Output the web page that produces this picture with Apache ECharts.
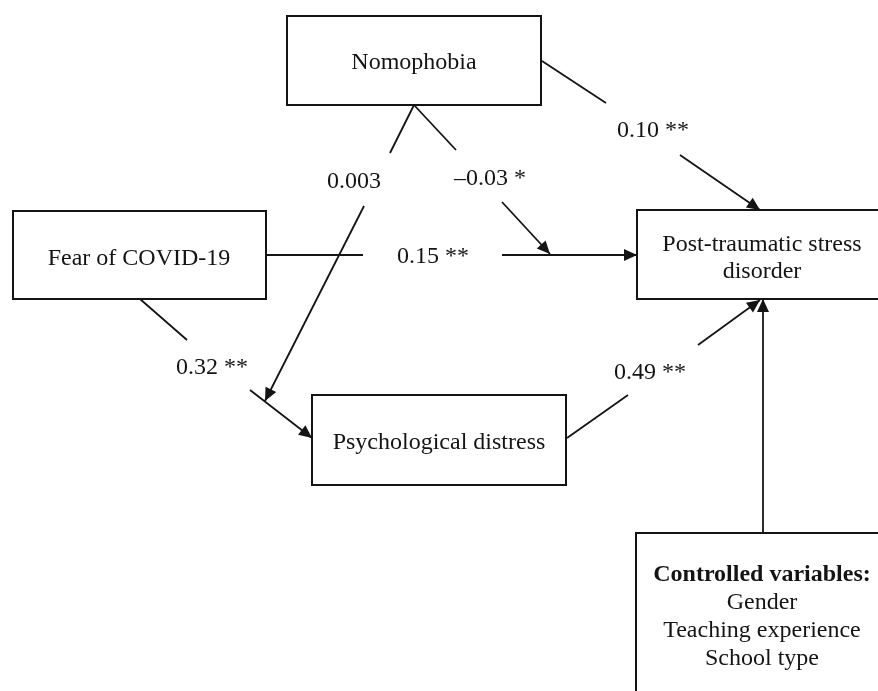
<!DOCTYPE html>
<html>
<head>
<meta charset="utf-8">
<title>Nomophobia path model</title>
<script src="https://cdn.jsdelivr.net/npm/echarts@6/dist/echarts.min.js"></script>
<style>
html, body { margin: 0; padding: 0; background: #fff; }
#chart { width: 878px; height: 691px; }
</style>
</head>
<body>
<div id="chart"></div>
<script>
// variables in the model
const boxNames = ['Nomophobia', 'Fear of COVID-19', 'Post-traumatic stress\ndisorder', 'Psychological distress', 'Controlled variables:'];
const controlVars = ['Gender', 'Teaching experience', 'School type'];
// path coefficients (same order as the paths below)
const coefLabels = ['0.10 **', '0.003', '\u20130.03 *', '0.15 **', '0.32 **', '0.49 **'];

// layout, in diagram units (axes run 0..878 and 0..691)
const boxRects = [
	[287, 16, 541, 105],
	[13, 211, 266, 299],
	[637, 210, 895, 299],
	[312, 395, 566, 485],
	[636, 533, 895, 710]
];
const boxTextPos = [[414, 63], [139, 259], [762, 258], [439, 443], [762, 575]];
const controlTextPos = [762, 631];

// each path: its pieces of line, the last one ends in an arrow (when arrow is true)
const paths = [
	{segs: [[[542, 61], [606, 103]], [[680, 155], [760, 210]]], arrow: true},
	{segs: [[[414, 105], [390, 153]], [[364, 206], [265, 401]]], arrow: true},
	{segs: [[[414, 105], [456, 150]], [[502, 202], [550, 254]]], arrow: true},
	{segs: [[[266, 255], [363, 255]], [[502, 255], [637, 255]]], arrow: true},
	{segs: [[[140, 299], [187, 340]], [[250, 390], [312, 438]]], arrow: true},
	{segs: [[[567, 438], [628, 395]], [[698, 345], [760, 300]]], arrow: true},
	{segs: [[[763, 533], [763, 299]]], arrow: true}
];
const coefPos = [[653, 131], [354, 182], [490, 179], [433, 257], [212, 368], [650, 373]];

const ink = '#141414';
const serif = '"Liberation Serif", "Times New Roman", serif';

let myChart = echarts.init(document.getElementById('chart'), null, {renderer: 'canvas'});

function renderBox(params, api) {
	let i = params.dataIndex;
	let p0 = api.coord([api.value(0), api.value(1)]);
	let p1 = api.coord([api.value(2), api.value(3)]);
	let t = api.coord(boxTextPos[i]);
	let children = [{
		type: 'rect',
		shape: {x: p0[0], y: p0[1], width: p1[0] - p0[0], height: p1[1] - p0[1]},
		style: {fill: '#fff', stroke: ink, lineWidth: 2}
	}, {
		type: 'text',
		style: {
			text: boxNames[i], x: t[0], y: t[1], fill: ink,
			fontSize: 24, fontFamily: serif, fontWeight: i === 4 ? 'bold' : 'normal',
			align: 'center', verticalAlign: 'middle', lineHeight: 27
		}
	}];
	if (i === 4) {
		let c = api.coord(controlTextPos);
		children.push({
			type: 'text',
			style: {
				text: controlVars.join('\n'), x: c[0], y: c[1], fill: ink,
				fontSize: 24, fontFamily: serif,
				align: 'center', verticalAlign: 'middle', lineHeight: 28
			}
		});
	}
	return {type: 'group', children: children};
}

function renderPath(params, api) {
	let path = paths[params.dataIndex];
	let children = [];
	path.segs.forEach((seg, k) => {
		let a = api.coord(seg[0]);
		let b = api.coord(seg[1]);
		children.push({
			type: 'polyline',
			shape: {points: [a, b]},
			style: {stroke: ink, lineWidth: 1.8, fill: null}
		});
		if (path.arrow && k === path.segs.length - 1) {
			// filled arrow head with its tip on the end point
			let dx = b[0] - a[0], dy = b[1] - a[1];
			let len = Math.sqrt(dx * dx + dy * dy);
			let ux = dx / len, uy = dy / len;
			let L = 13, W = 6;
			let bx = b[0] - ux * L, by = b[1] - uy * L;
			children.push({
				type: 'polygon',
				shape: {points: [b, [bx - uy * W, by + ux * W], [bx + uy * W, by - ux * W]]},
				style: {fill: ink}
			});
		}
	});
	return {type: 'group', children: children};
}

function renderCoef(params, api) {
	let p = api.coord([api.value(0), api.value(1)]);
	return {
		type: 'text',
		style: {
			text: coefLabels[params.dataIndex], x: p[0], y: p[1], fill: ink,
			fontSize: 24, fontFamily: serif,
			align: 'center', verticalAlign: 'middle'
		}
	};
}

let option = {
	animation: false,
	backgroundColor: '#fff',
	grid: {left: 0, right: 0, top: 0, bottom: 0},
	xAxis: {type: 'value', min: 0, max: 878, show: false},
	yAxis: {type: 'value', min: 0, max: 691, inverse: true, show: false},
	series: [{
		type: 'custom',
		name: 'paths',
		silent: true,
		clip: false,
		renderItem: renderPath,
		data: paths.map((p, i) => [i])
	}, {
		type: 'custom',
		name: 'boxes',
		silent: true,
		clip: false,
		renderItem: renderBox,
		data: boxRects
	}, {
		type: 'custom',
		name: 'coefficients',
		silent: true,
		renderItem: renderCoef,
		data: coefPos
	}]
};
// 画图
myChart.setOption(option);
</script>
</body>
</html>
